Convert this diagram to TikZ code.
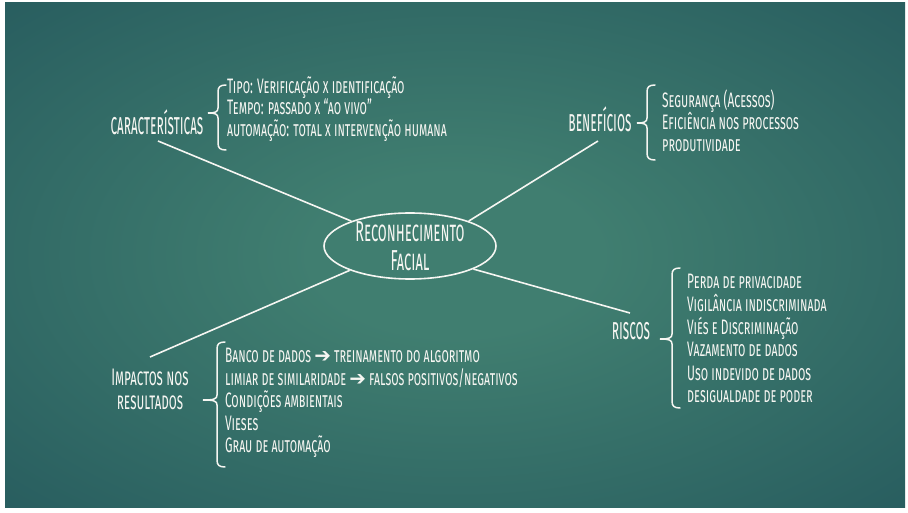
\documentclass[tikz,border=0pt]{standalone}
\usepackage{fontspec}
\usetikzlibrary{shapes.geometric}
\setmainfont{Fira Sans}
\newfontfamily\itemfont[Letters=SmallCaps,FakeStretch=0.57]{Fira Sans}
\newfontfamily\labfont[Letters=SmallCaps,FakeStretch=0.44]{Fira Sans}
\newfontfamily\impfont[Letters=SmallCaps,FakeStretch=0.54]{Fira Sans}
\newfontfamily\elfont[Letters=SmallCaps,FakeStretch=0.5]{Fira Sans}
\newfontfamily\symfont{DejaVu Sans}
\definecolor{bgA}{RGB}{64,126,112}
\definecolor{bgB}{RGB}{40,93,95}
\definecolor{bgC}{RGB}{22,62,78}
\definecolor{fg}{RGB}{246,246,242}
\pgfdeclareradialshading{bgshade}{\pgfpoint{0bp}{0bp}}{color(0bp)=(bgA); color(8bp)=(bgA); color(36bp)=(bgB); color(72bp)=(bgC)}
\newcommand{\mybrace}[5]{%
\draw[brc] ({#1+8},#2) .. controls ({#1+2},#2) and (#1,{#2+2}) .. (#1,{#2+7}) -- (#1,{#4-5}) .. controls (#1,{#4-1}) and ({#1-3},#4) .. (#5,#4) .. controls ({#1-3},#4) and (#1,{#4+1}) .. (#1,{#4+5}) -- (#1,{#3-7}) .. controls (#1,{#3-2}) and ({#1+2},#3) .. ({#1+8},#3);}
\newcommand{\arr}{{\symfont\fontsize{20}{20}\selectfont ➔}}
\begin{document}
\begin{tikzpicture}[x=1bp,y=-1bp,
  conn/.style={draw=fg, line width=1.6bp},
  brc/.style={draw=fg, line width=1.5bp, line cap=round},
  itm/.style={text=fg, inner sep=0pt, anchor=base west, font=\itemfont\fontsize{21}{24}\selectfont},
  lab/.style={text=fg, inner sep=0pt, anchor=base, font=\labfont\fontsize{30}{32}\selectfont},
  labi/.style={text=fg, inner sep=0pt, anchor=north, align=center, font=\impfont\fontsize{24}{24}\selectfont},
  elt/.style={text=fg, inner sep=0pt, anchor=base, font=\elfont\fontsize{29}{31}\selectfont}]
\useasboundingbox (0,0) rectangle (908,513);
\fill[white] (0,0) rectangle (908,513);
\shade[shading=bgshade] (5,3) rectangle (905,507);
% central ellipse
\node[draw=fg, line width=1.6bp, ellipse, minimum width=172bp, minimum height=66bp, inner sep=0pt] (rf) at (410,246) {};
\node[elt] (rf1) at (410,242) {Reconhecimento};
\node[elt] (rf2) at (410,271) {Facial};
% labels
\node[lab] (lc) at (157,135) {características};
\node[lab] (lb) at (600,132) {benefícios};
\node[lab] (lr) at (631,340) {riscos};
\node[labi] (li) at (150,368.5) {Impactos nos\\resultados};
% connectors
\coordinate (pc) at (158,141);
\coordinate (pb) at (598,141);
\coordinate (pr) at (630,313);
\coordinate (pi) at (150,357);
\draw[conn] (rf.157) -- (pc);
\draw[conn] (rf.23) -- (pb);
\draw[conn] (rf.340) -- (pr);
\draw[conn] (rf.202) -- (pi);
% braces
\mybrace{218}{85}{150}{113}{208}
\mybrace{647}{85}{160}{123}{637}
\mybrace{672}{268}{408}{339}{660}
\mybrace{217}{342}{467}{400}{203}
% caracteristicas
\node[itm] (c1) at (227,94) {Tipo: Verificação x identificação};
\node[itm] (c2) at (227,115) {Tempo: passado x “ao vivo”};
\node[itm] (c3) at (227,137) {automação: total x intervenção humana};
% beneficios
\node[itm] (b1) at (662,108) {Segurança (Acessos)};
\node[itm] (b2) at (662,130) {Eficiência nos processos};
\node[itm] (b3) at (662,152) {produtividade};
% riscos
\node[itm] (r1) at (687,289) {Perda de privacidade};
\node[itm] (r2) at (687,312) {Vigilância indiscriminada};
\node[itm] (r3) at (687,335) {Viés e Discriminação};
\node[itm] (r4) at (687,357) {Vazamento de dados};
\node[itm] (r5) at (687,380) {Uso indevido de dados};
\node[itm] (r6) at (687,402) {desigualdade de poder};
% impactos
\node[itm] (i1) at (225,363) {Banco de dados \arr\ treinamento do algoritmo};
\node[itm] (i2) at (225,385) {limiar de similaridade \arr\ falsos positivos/negativos};
\node[itm] (i3) at (225,407) {Condições ambientais};
\node[itm] (i4) at (225,430) {Vieses};
\node[itm] (i5) at (225,452) {Grau de automação};
\end{tikzpicture}
\end{document}
